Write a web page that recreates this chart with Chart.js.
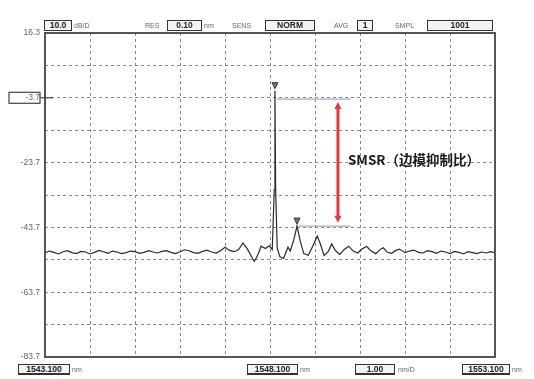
<!DOCTYPE html>
<html>
<head>
<meta charset="utf-8">
<script src="https://cdn.jsdelivr.net/npm/chart.js@4/dist/chart.umd.min.js"></script>
<style>
  html, body { margin: 0; padding: 0; background: #fff; }
  #wrap { position: relative; width: 534px; height: 379px; overflow: hidden; font-family: "Liberation Sans", "DejaVu Sans", sans-serif; }
  canvas { position: absolute; left: 0; top: 0; }
  .box { position: absolute; border: 1.5px solid #333; box-sizing: border-box; height: 11px;
         font-size: 8.5px; line-height: 8px; color: #222; text-align: center; font-weight: bold; background: #f4f4f4; }
  .lbl { position: absolute; font-size: 7px; color: #666; line-height: 8px; }
  .ubox { border-width: 1px 1px 2px 1px; }
</style>
</head>
<body>
<div id="wrap">
  <canvas id="c" width="534" height="379"></canvas>

  <!-- instrument status line -->
  <div class="box" style="left:44px;top:20px;width:28px;">10.0</div>
  <div class="lbl" style="left:74px;top:22px;">dB/D</div>
  <div class="lbl" style="left:145px;top:22px;">RES</div>
  <div class="box" style="left:167px;top:20px;width:35px;">0.10</div>
  <div class="lbl" style="left:204px;top:22px;">nm</div>
  <div class="lbl" style="left:232px;top:22px;">SENS</div>
  <div class="box" style="left:265px;top:20px;width:50px;">NORM</div>
  <div class="lbl" style="left:334px;top:22px;">AVG</div>
  <div class="box" style="left:357px;top:20px;width:16px;">1</div>
  <div class="lbl" style="left:395px;top:22px;">SMPL</div>
  <div class="box" style="left:427px;top:20px;width:66px;">1001</div>

  <!-- wavelength settings line -->
  <div class="box ubox" style="left:18px;top:364px;width:52px;">1543.100</div>
  <div class="lbl" style="left:72px;top:366px;">nm</div>
  <div class="box ubox" style="left:247px;top:364px;width:51px;">1548.100</div>
  <div class="lbl" style="left:300px;top:366px;">nm</div>
  <div class="box ubox" style="left:355px;top:364px;width:40px;">1.00</div>
  <div class="lbl" style="left:398px;top:366px;">nm/D</div>
  <div class="box ubox" style="left:462px;top:364px;width:48px;">1553.100</div>
  <div class="lbl" style="left:512px;top:366px;">nm</div>
</div>
<script>
// Wavelength axis (nm) and grid positions
const xGrid = [1543.1, 1544.1, 1545.1, 1546.1, 1547.1, 1548.1, 1549.1, 1550.1, 1551.1, 1552.1, 1553.1];
// Power axis (dBm), 10 dB per division
const yGrid = [16.3, 6.3, -3.7, -13.7, -23.7, -33.7, -43.7, -53.7, -63.7, -73.7, -83.7];
const yLabels = ["16.3", "-3.7", "-23.7", "-43.7", "-63.7", "-83.7"];
const refLevel = "-3.7";

// Measured spectrum trace
const wavelength = [
  1543.1, 1543.2, 1543.3, 1543.4, 1543.5, 1543.6, 1543.7, 1543.8, 1543.9, 1544.0,
  1544.1, 1544.2, 1544.3, 1544.4, 1544.5, 1544.6, 1544.7, 1544.8, 1544.9, 1545.0,
  1545.1, 1545.2, 1545.3, 1545.4, 1545.5, 1545.6, 1545.7, 1545.8, 1545.9, 1546.0,
  1546.1, 1546.2, 1546.3, 1546.4, 1546.5, 1546.6, 1546.7, 1546.8, 1546.9, 1547.0,
  1547.1, 1547.2, 1547.3, 1547.4, 1547.5, 1547.6, 1547.7, 1547.75, 1547.8, 1547.85,
  1547.9, 1548.0, 1548.08, 1548.15, 1548.195, 1548.21, 1548.225, 1548.26, 1548.32, 1548.4,
  1548.5, 1548.55, 1548.63, 1548.70, 1548.77, 1548.85, 1548.95, 1549.05, 1549.15, 1549.23,
  1549.3, 1549.4, 1549.47, 1549.55, 1549.65, 1549.75, 1549.85, 1549.95, 1550.05, 1550.15,
  1550.25, 1550.35, 1550.45, 1550.55, 1550.62, 1550.7, 1550.8, 1550.9, 1550.98, 1551.1,
  1551.2, 1551.3, 1551.4, 1551.5, 1551.6, 1551.7, 1551.8, 1551.9, 1552.0, 1552.1,
  1552.2, 1552.3, 1552.4, 1552.5, 1552.6, 1552.7, 1552.8, 1552.9, 1553.0, 1553.1
];
const power = [
  -51.6, -51.0, -51.4, -51.9, -51.2, -50.9, -51.5, -51.8, -51.1, -51.3,
  -51.9, -51.4, -50.8, -51.2, -51.7, -51.0, -51.3, -51.8, -51.5, -51.0,
  -51.2, -51.7, -51.4, -50.9, -51.3, -51.6, -51.1, -50.9, -51.4, -51.8,
  -51.2, -50.6, -50.9, -51.5, -51.7, -51.1, -50.7, -51.3, -51.6, -50.9,
  -49.8, -50.8, -51.2, -50.6, -48.5, -50.4, -53.0, -54.2, -53.0, -51.5,
  -49.5, -50.2, -49.4, -50.5, -32.0, -1.5, -32.0, -50.0, -52.8, -53.3,
  -49.8, -51.0, -47.5, -43.3, -47.8, -51.8, -52.3, -49.5, -46.4, -49.2,
  -52.4, -51.0, -48.8, -50.8, -52.0, -50.5, -49.5, -51.0, -51.6, -50.3,
  -49.6, -51.0, -51.8, -50.5, -50.0, -51.3, -51.7, -50.8, -50.4, -51.5,
  -51.0, -50.7, -51.4, -51.6, -50.9, -51.2, -51.7, -51.0, -51.3, -51.8,
  -51.1, -51.4, -51.9, -51.2, -51.5, -51.8, -51.3, -51.6, -51.2, -51.5
];

// Peak markers (main mode and strongest side mode)
const markerWl = [1548.21, 1548.70];

// SMSR annotation: reference levels and arrow position
const smsrLevels = [-4.1, -43.3];
const smsrLineStart = [1548.25, 1548.74];
const smsrLineEnd = 1549.9;
const smsrArrowWl = 1549.61;
const smsrArrowEnds = [-5.0, -42.3];
const smsrText = "SMSR（边模抑制比）";

const framePlugin = {
  id: 'frame',
  afterDatasetsDraw(chart) {
    const { ctx, chartArea: a, scales: { x, y } } = chart;
    ctx.save();

    // SMSR reference lines
    ctx.strokeStyle = '#8a98c8';
    ctx.lineWidth = 1;
    smsrLevels.forEach((lv, i) => {
      ctx.beginPath();
      ctx.moveTo(x.getPixelForValue(smsrLineStart[i]), y.getPixelForValue(lv));
      ctx.lineTo(x.getPixelForValue(smsrLineEnd), y.getPixelForValue(lv));
      ctx.stroke();
    });

    // red double arrow
    const ax = x.getPixelForValue(smsrArrowWl);
    const ay0 = y.getPixelForValue(smsrArrowEnds[0]);
    const ay1 = y.getPixelForValue(smsrArrowEnds[1]);
    ctx.strokeStyle = '#e8353f';
    ctx.fillStyle = '#e8353f';
    ctx.lineWidth = 3;
    ctx.beginPath();
    ctx.moveTo(ax, ay0 + 4);
    ctx.lineTo(ax, ay1 - 4);
    ctx.stroke();
    ctx.beginPath();
    ctx.moveTo(ax, ay0); ctx.lineTo(ax - 3.5, ay0 + 7); ctx.lineTo(ax + 3.5, ay0 + 7); ctx.closePath(); ctx.fill();
    ctx.beginPath();
    ctx.moveTo(ax, ay1); ctx.lineTo(ax - 3.5, ay1 - 7); ctx.lineTo(ax + 3.5, ay1 - 7); ctx.closePath(); ctx.fill();

    // annotation text
    ctx.fillStyle = '#1a1a1a';
    ctx.font = 'bold 13.5px "Noto Sans CJK SC", "Noto Sans", sans-serif';
    ctx.textAlign = 'left';
    ctx.textBaseline = 'middle';
    ctx.fillText(smsrText, ax + 10, y.getPixelForValue(-23.7) - 3);

    // peak markers
    ctx.strokeStyle = '#333';
    ctx.fillStyle = '#777';
    ctx.lineWidth = 1;
    markerWl.forEach(w => {
      const i = wavelength.indexOf(w);
      const px = x.getPixelForValue(w);
      const py = y.getPixelForValue(power[i]) - 2;
      ctx.beginPath();
      ctx.moveTo(px - 3, py - 6); ctx.lineTo(px + 3, py - 6); ctx.lineTo(px, py); ctx.closePath();
      ctx.fill(); ctx.stroke();
    });

    // outer frame
    ctx.strokeStyle = '#555';
    ctx.lineWidth = 2;
    ctx.strokeRect(a.left, a.top, a.right - a.left, a.bottom - a.top);

    // boxed reference level label
    const ry = y.getPixelForValue(parseFloat(refLevel));
    ctx.lineWidth = 1.2;
    ctx.strokeStyle = '#444';
    ctx.strokeRect(9, ry - 5.5, 31, 11);
    ctx.beginPath();
    ctx.moveTo(40, ry); ctx.lineTo(a.left + 8, ry);
    ctx.stroke();
    ctx.restore();
  }
};

new Chart(document.getElementById('c'), {
  type: 'line',
  data: {
    datasets: [{
      data: wavelength.map((w, i) => ({ x: w, y: power[i] })),
      borderColor: '#2a2a2a',
      borderWidth: 1.2,
      pointRadius: 0,
      tension: 0,
      fill: false
    }]
  },
  options: {
    responsive: false,
    animation: false,
    events: [],
    layout: { padding: { left: 0, top: 33, right: 39, bottom: 22 } },
    plugins: { legend: { display: false }, tooltip: { enabled: false } },
    scales: {
      x: {
        type: 'linear',
        min: xGrid[0],
        max: xGrid[xGrid.length - 1],
        afterBuildTicks: s => { s.ticks = xGrid.map(v => ({ value: v })); },
        afterFit: s => { s.height = 0; },
        ticks: { display: false },
        border: { display: false, dash: [3, 3] },
        grid: { color: '#888', lineWidth: 1, drawTicks: false }
      },
      y: {
        type: 'linear',
        min: yGrid[yGrid.length - 1],
        max: yGrid[0],
        afterBuildTicks: s => { s.ticks = yGrid.map(v => ({ value: v })); },
        afterFit: s => { s.width = 45; },
        border: { display: false, dash: [3, 3] },
        grid: { color: '#888', lineWidth: 1, drawTicks: false },
        ticks: {
          padding: 5,
          color: '#666',
          font: { size: 8.5, family: '"Liberation Sans", "DejaVu Sans", sans-serif' },
          callback: v => {
            const t = v.toFixed(1);
            return yLabels.includes(t) ? t : '';
          }
        }
      }
    }
  },
  plugins: [framePlugin]
});
</script>
</body>
</html>
